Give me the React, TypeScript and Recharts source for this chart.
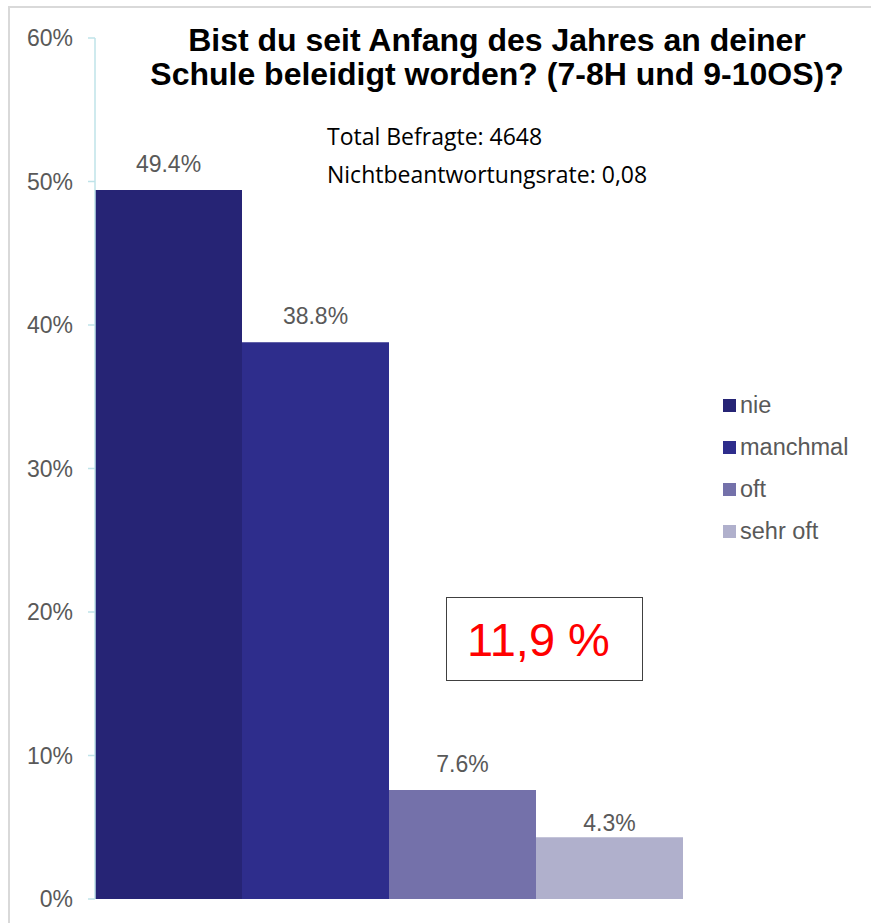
import React from "react";
import { BarChart, Bar, XAxis, YAxis, LabelList } from "recharts";

const categories = ["Antworten"];
const seriesNames = ["nie", "manchmal", "oft", "sehr oft"];
const seriesValues = [0.494, 0.388, 0.076, 0.043];
const seriesColors = ["#262475", "#2e2d8c", "#7471aa", "#b0b0cc"];
const labelOffsets = [18, 18, 18, 6];
const yTicks = [0, 0.1, 0.2, 0.3, 0.4, 0.5, 0.6];
const titleLines = [
  "Bist du seit Anfang des Jahres an deiner",
  "Schule beleidigt worden? (7-8H und 9-10OS)?",
];
const infoLines = ["Total Befragte: 4648", "Nichtbeantwortungsrate: 0,08"];
const highlightText = "11,9 %";

const data = categories.map((c) => {
  const row: Record<string, any> = { name: c };
  seriesNames.forEach((s, i) => {
    row[s] = seriesValues[i];
  });
  return row;
});

const fmtPct = (v: number) => `${Math.round(v * 100)}%`;
const fmtLabel = (v: any) => `${(Number(v) * 100).toFixed(1)}%`;
const FONT = "'Liberation Sans', Arial, sans-serif";

export default function App() {
  return (
    <div
      style={{
        position: "fixed",
        left: 0,
        top: 0,
        width: 871,
        height: 923,
        overflow: "hidden",
        background: "#fff",
      }}
    >
      <div
        style={{
          position: "absolute",
          left: 8,
          top: 6,
          width: 950,
          height: 1000,
          border: "2px solid #d9d9d9",
        }}
      />
      <div style={{ position: "absolute", left: 0, top: 0 }}>
        <BarChart
          width={871}
          height={923}
          data={data}
          margin={{ top: 38, right: 189, bottom: 24, left: 35 }}
          barCategoryGap={0}
          barGap={0}
        >
          <XAxis dataKey="name" hide />
          <YAxis
            width={60}
            domain={[0, 0.6]}
            ticks={yTicks}
            tickFormatter={fmtPct}
            tick={{ fill: "#595959", fontSize: 23, fontFamily: FONT }}
            axisLine={{ stroke: "#bfe3e8", strokeWidth: 1.5 }}
            tickLine={{ stroke: "#bfe3e8", strokeWidth: 1.5 }}
            tickSize={7}
            tickMargin={15}
            interval={0}
          />
          {seriesNames.map((s, i) => (
            <Bar key={s} dataKey={s} fill={seriesColors[i]} isAnimationActive={false}>
              <LabelList
                dataKey={s}
                position="top"
                offset={labelOffsets[i]}
                formatter={fmtLabel}
                fill="#595959"
                fontSize={23}
                fontFamily={FONT}
              />
            </Bar>
          ))}
        </BarChart>
      </div>
      <div style={{ position: "absolute", left: 723, top: 384 }}>
        {seriesNames.map((s, i) => (
          <div
            key={s}
            style={{
              display: "flex",
              alignItems: "center",
              height: 42,
              fontFamily: FONT,
              fontSize: 23.5,
              color: "#595959",
              whiteSpace: "nowrap",
            }}
          >
            <span
              style={{
                display: "inline-block",
                width: 13,
                height: 13,
                background: seriesColors[i],
                marginRight: 4,
              }}
            />
            {s}
          </div>
        ))}
      </div>
      <div
        style={{
          position: "absolute",
          left: 97,
          width: 800,
          top: 23,
          textAlign: "center",
          fontFamily: FONT,
          fontWeight: "bold",
          fontSize: 32,
          lineHeight: "34px",
          color: "#000",
        }}
      >
        {titleLines.map((t, i) => (
          <div key={i}>{t}</div>
        ))}
      </div>
      <div
        style={{
          position: "absolute",
          left: 327,
          top: 117,
          fontFamily: "'Open Sans', 'Noto Sans', sans-serif",
          fontSize: 23,
          color: "#000",
        }}
      >
        {infoLines.map((t, i) => (
          <div key={i} style={{ height: 38, lineHeight: "38px", whiteSpace: "nowrap" }}>{t}</div>
        ))}
      </div>
      <div
        style={{
          position: "absolute",
          left: 446,
          top: 597,
          width: 197,
          height: 84,
          border: "1.5px solid #404040",
          display: "flex",
          alignItems: "center",
          justifyContent: "center",
          fontFamily: FONT,
          fontSize: 47,
          color: "#ff0000",
          boxSizing: "border-box",
          paddingRight: 12,
        }}
      >
        {highlightText}
      </div>
    </div>
  );
}
